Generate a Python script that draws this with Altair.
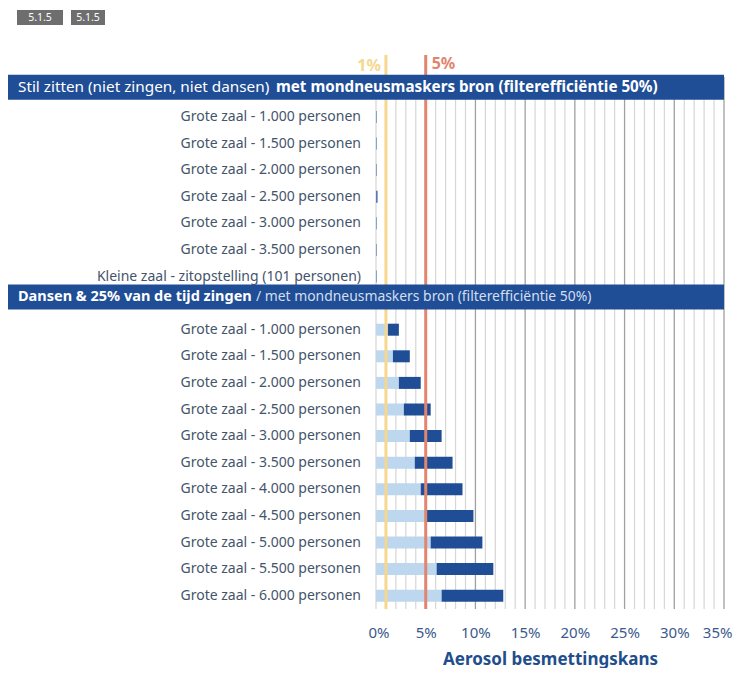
import altair as alt
import pandas as pd

# ---------------- data ----------------
top_labels = [
    "Grote zaal - 1.000 personen",
    "Grote zaal - 1.500 personen",
    "Grote zaal - 2.000 personen",
    "Grote zaal - 2.500 personen",
    "Grote zaal - 3.000 personen",
    "Grote zaal - 3.500 personen",
    "Kleine zaal - zitopstelling (101 personen)",
]
top_low = [0.06, 0.06, 0.06, 0.03, 0.06, 0.06, 0.06]
top_high = [0.10, 0.10, 0.10, 0.15, 0.10, 0.10, 0.10]

bottom_labels = [
    "Grote zaal - 1.000 personen",
    "Grote zaal - 1.500 personen",
    "Grote zaal - 2.000 personen",
    "Grote zaal - 2.500 personen",
    "Grote zaal - 3.000 personen",
    "Grote zaal - 3.500 personen",
    "Grote zaal - 4.000 personen",
    "Grote zaal - 4.500 personen",
    "Grote zaal - 5.000 personen",
    "Grote zaal - 5.500 personen",
    "Grote zaal - 6.000 personen",
]
bottom_low = [1.2, 1.7, 2.3, 2.8, 3.4, 3.9, 4.5, 5.1, 5.5, 6.1, 6.6]
bottom_high = [2.3, 3.4, 4.5, 5.5, 6.6, 7.7, 8.7, 9.8, 10.7, 11.8, 12.8]

header1_normal = "Stil zitten (niet zingen, niet dansen) "
header1_bold = "met mondneusmaskers bron (filterefficiëntie 50%)"
header2_bold = "Dansen & 25% van de tijd zingen"
header2_normal = "/ met mondneusmaskers bron (filterefficiëntie 50%)"

x_ticks = [0, 5, 10, 15, 20, 25, 30, 35]
minor_grid = list(range(0, 36))
thresholds = [1, 5]
threshold_labels = ["1%", "5%"]
threshold_colors = ["#F7D78E", "#E2846E"]
button_text = ["5.1.5", "5.1.5"]

# ---------------- tables ----------------
top_keys = [f"t{i}" for i in range(len(top_labels))]
bot_keys = [f"b{i}" for i in range(len(bottom_labels))]
row_order = ["h1"] + top_keys + ["h2"] + bot_keys

bars = pd.DataFrame({
    "key": top_keys + bot_keys,
    "label": top_labels + bottom_labels,
    "zero": [0.0] * (len(top_keys) + len(bot_keys)),
    "low": top_low + bottom_low,
    "high": top_high + bottom_high,
})
grid_df = pd.DataFrame({"v": minor_grid, "major": [v % 5 == 0 and v > 0 for v in minor_grid]})
thr_df = pd.DataFrame({"v": thresholds, "lab": threshold_labels, "col": threshold_colors})

W, H = 348, 532
BLUE = "#1F4E96"
FONT = "Noto Sans"

xscale = alt.Scale(domain=[0, 35], nice=False, zero=False)
xaxis = alt.Axis(
    values=x_ticks, labelExpr="datum.value + '%'", grid=False, domain=False, ticks=False,
    labelFlush=True, labelFlushOffset=8, labelOverlap=False,
    labelFontSize=15, labelColor="#3A5A8C", labelFont=FONT, labelPadding=16,
    title="Aerosol besmettingskans", titleFontSize=17, titleFontWeight="bold",
    titleColor="#1F4E8C", titleFont=FONT, titlePadding=11,
)
yscale = alt.Scale(domain=row_order, paddingInner=0, paddingOuter=0)


def X(field):
    return alt.X(field, type="quantitative", scale=xscale, axis=xaxis)


def Y():
    return alt.Y("key:N", scale=yscale, axis=None)


minor = alt.Chart(grid_df).transform_filter("!datum.major").mark_rule(
    color="#D6D6D6", strokeWidth=1.2
).encode(x=X("v"), y=alt.value(0), y2=alt.value(H))

major = alt.Chart(grid_df).transform_filter("datum.major").mark_rule(
    color="#A0A0A0", strokeWidth=1.3
).encode(x=X("v"), y=alt.value(0), y2=alt.value(H))

light = alt.Chart(bars).mark_bar(size=12, color="#BDD7EE").encode(
    x=X("zero"), x2="low", y=Y()
)
dark = alt.Chart(bars).mark_bar(size=12, color="#1F4E96").encode(
    x=X("low"), x2="high", y=Y()
)

thr_rules = alt.Chart(thr_df).mark_rule(strokeWidth=3).encode(
    x=X("v"), y=alt.value(-22), y2=alt.value(H),
    color=alt.Color("col:N", scale=None),
)
thr_text_left = alt.Chart(thr_df).transform_filter("datum.v == 1").mark_text(
    align="right", baseline="middle", dx=-5, fontSize=16, fontWeight="bold", font=FONT
).encode(x=X("v"), y=alt.value(-11), text="lab:N", color=alt.Color("col:N", scale=None))
thr_text_right = alt.Chart(thr_df).transform_filter("datum.v == 5").mark_text(
    align="left", baseline="middle", dx=6, fontSize=16, fontWeight="bold", font=FONT
).encode(x=X("v"), y=alt.value(-13), text="lab:N", color=alt.Color("col:N", scale=None))

row_labels = alt.Chart(bars).mark_text(
    align="right", baseline="middle", fontSize=14, color="#44546A", font=FONT
).encode(x=alt.value(-15), y=Y(), text="label:N")

header_layers = []
for key, off, parts in [
    ("h1", -3, [(header1_normal, "normal", "#FFFFFF", -358, 15.3),
                (header1_bold, "bold", "#FFFFFF", -100, 15.2)]),
    ("h2", -6, [(header2_bold, "bold", "#FFFFFF", -358, 14.5),
                (header2_normal, "normal", "#D5DEEE", -120, 13.9)]),
]:
    hdf = pd.DataFrame({"key": [key]})
    header_layers.append(
        alt.Chart(hdf).mark_bar(size=25, color=BLUE, orient="horizontal", yOffset=off).encode(
            x=alt.value(-368), x2=alt.value(W), y=Y()
        )
    )
    for txt, wt, col, xpos, fs in parts:
        header_layers.append(
            alt.Chart(pd.DataFrame({"key": [key], "t": [txt]})).mark_text(
                align="left", baseline="middle", fontSize=fs, fontWeight=wt, color=col,
                font=FONT, yOffset=off,
            ).encode(x=alt.value(xpos), y=Y(), text="t:N")
        )

btn_df = pd.DataFrame({"t": button_text, "x": [-359, -305], "x2": [-313, -271]})
buttons = []
for i in range(len(button_text)):
    b = btn_df.iloc[[i]]
    x0, x1 = int(b["x"].iloc[0]), int(b["x2"].iloc[0])
    buttons.append(alt.Chart(b).mark_rect(color="#6E6E6E").encode(
        x=alt.value(x0), x2=alt.value(x1), y=alt.value(-67), y2=alt.value(-52)))
    buttons.append(alt.Chart(b).mark_text(color="#FFFFFF", fontSize=10.5, font=FONT,
                                          align="center", baseline="middle").encode(
        x=alt.value((x0 + x1) / 2), y=alt.value(-59.5), text="t:N"))

chart = alt.layer(
    minor, major, light, dark, thr_rules, thr_text_left, thr_text_right,
    *header_layers, row_labels, *buttons
).properties(
    width=W, height=H,
    autosize=alt.AutoSizeParams(type="none"),
    padding={"left": 368, "top": 69, "right": 9, "bottom": 59},
).configure_view(stroke=None)

chart.save("out.html", embed_options={"renderer": "svg", "actions": False})
